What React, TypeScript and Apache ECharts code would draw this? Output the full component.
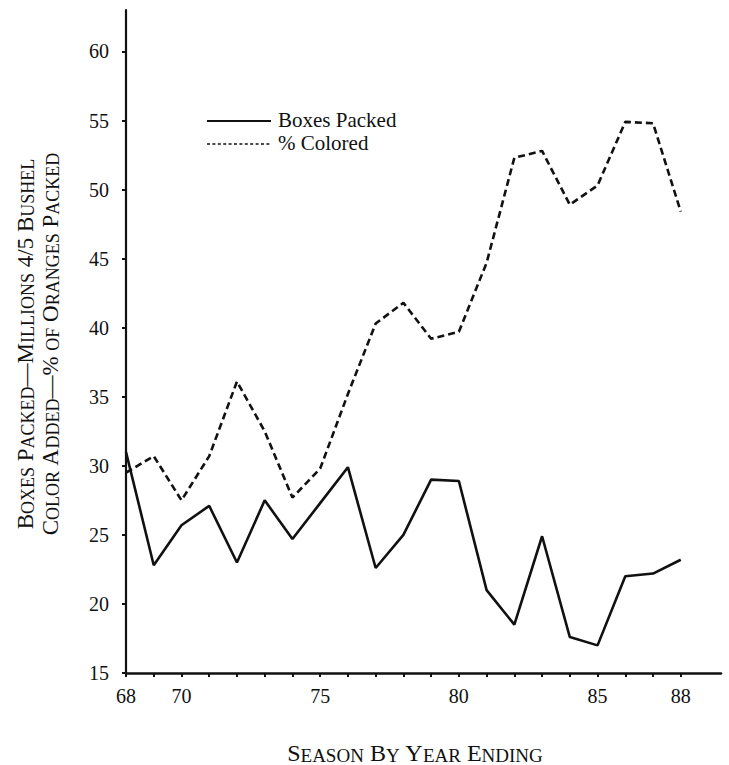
import React, { useEffect, useRef } from 'react';
import * as echarts from 'echarts';

const years = [68, 69, 70, 71, 72, 73, 74, 75, 76, 77, 78, 79, 80, 81, 82, 83, 84, 85, 86, 87, 88];
const boxesPacked = [31.0, 22.8, 25.7, 27.1, 23.0, 27.5, 24.7, 27.3, 29.9, 22.6, 25.0, 29.0, 28.9, 21.0, 18.5, 24.9, 17.6, 17.0, 22.0, 22.2, 23.2];
const pctColored = [29.5, 30.7, 27.5, 30.7, 36.1, 32.5, 27.7, 29.8, 35.2, 40.3, 41.8, 39.2, 39.7, 44.7, 52.3, 52.8, 48.9, 50.3, 54.9, 54.8, 48.4];
const xLabelValues = [68, 70, 75, 80, 85, 88];
const yTickValues = [15, 20, 25, 30, 35, 40, 45, 50, 55, 60];
const seriesNames = ['Boxes Packed', '% Colored'];
const yTitleLines = ['Boxes Packed\u2014Millions 4/5 Bushel', 'Color Added\u2014% of Oranges Packed'];
const xTitle = 'Season By Year Ending';

const FONT = '"Liberation Serif", "DejaVu Serif", serif';
const INK = '#111';

// convert to small caps rich-text string
function smallCaps(s: string): string {
  let out = '';
  let cur = '';
  let curStyle = '';
  for (const ch of s) {
    const isLower = ch !== ch.toUpperCase();
    const st = isLower ? 's' : 'L';
    const c = ch.toUpperCase();
    if (st !== curStyle && cur) {
      out += `{${curStyle}|${cur}}`;
      cur = '';
    }
    curStyle = st;
    cur += c;
  }
  if (cur) out += `{${curStyle}|${cur}}`;
  return out;
}

function richStyles(big: number, small: number) {
  return {
    L: { fontSize: big, fontFamily: FONT, fill: INK, color: INK, lineHeight: big + 2, verticalAlign: 'bottom' },
    s: { fontSize: small, fontFamily: FONT, fill: INK, color: INK, lineHeight: big + 2, verticalAlign: 'bottom' },
  };
}

export default function App() {
  const ref = useRef<HTMLDivElement>(null);
  useEffect(() => {
    if (!ref.current) return;
    const chart = echarts.init(ref.current, null, { renderer: 'svg' });
    const option: any = {
      animation: false,
      backgroundColor: '#fff',
      grid: { left: 126, right: 8, top: 10, bottom: 92, outerBoundsMode: 'none' },
      legend: { show: false },
      xAxis: {
        type: 'value',
        min: 68,
        max: 89.45,
        interval: 1,
        splitLine: { show: false },
        axisLine: { show: true, onZero: false, lineStyle: { color: INK, width: 2.5 } },
        axisTick: { show: true, length: 4, customValues: years, lineStyle: { color: INK, width: 2 } },
        axisLabel: {
          customValues: xLabelValues,
          margin: 13,
          fontFamily: FONT,
          fontSize: 20,
          color: INK,
        },
      },
      yAxis: {
        type: 'value',
        min: 15,
        max: 63,
        interval: 5,
        splitLine: { show: false },
        axisLine: { show: true, onZero: false, lineStyle: { color: INK, width: 2.2 } },
        axisTick: { show: true, length: 4, customValues: yTickValues, lineStyle: { color: INK, width: 2 } },
        axisLabel: {
          customValues: yTickValues,
          margin: 17,
          fontFamily: FONT,
          fontSize: 20,
          color: INK,
        },
      },
      series: [
        {
          name: seriesNames[0],
          type: 'line',
          data: years.map((y, i) => [y, boxesPacked[i]]),
          symbol: 'none',
          lineStyle: { color: INK, width: 2.6, type: 'solid' },
          itemStyle: { color: INK },
        },
        {
          name: seriesNames[1],
          type: 'line',
          data: years.map((y, i) => [y, pctColored[i]]),
          symbol: 'none',
          lineStyle: { color: INK, width: 2.6, type: [7, 4] },
          itemStyle: { color: INK },
        },
      ],
      graphic: [
        // legend
        {
          type: 'line',
          shape: { x1: 207, y1: 121, x2: 271, y2: 121 },
          style: { stroke: INK, lineWidth: 2 },
        },
        {
          type: 'text',
          x: 278,
          y: 120,
          style: { text: seriesNames[0], font: `21px ${FONT}`, fill: INK, textVerticalAlign: 'middle' },
        },
        {
          type: 'line',
          shape: { x1: 207, y1: 144, x2: 271, y2: 144 },
          style: { stroke: INK, lineWidth: 1.6, lineDash: [3, 2.4] },
        },
        {
          type: 'text',
          x: 278,
          y: 143,
          style: { text: seriesNames[1], font: `21px ${FONT}`, fill: INK, textVerticalAlign: 'middle' },
        },
        // axis titles
        {
          type: 'text',
          x: 24,
          y: 344,
          rotation: Math.PI / 2,
          style: {
            text: smallCaps(yTitleLines[0]),
            rich: richStyles(23, 18),
            textAlign: 'center',
            textVerticalAlign: 'middle',
            fill: INK,
          },
        },
        {
          type: 'text',
          x: 49,
          y: 344,
          rotation: Math.PI / 2,
          style: {
            text: smallCaps(yTitleLines[1]),
            rich: richStyles(23, 18),
            textAlign: 'center',
            textVerticalAlign: 'middle',
            fill: INK,
          },
        },
        {
          type: 'text',
          x: 415,
          y: 752,
          style: {
            text: smallCaps(xTitle),
            rich: richStyles(24, 19),
            textAlign: 'center',
            textVerticalAlign: 'middle',
            fill: INK,
          },
        },
      ],
    };
    chart.setOption(option);
    return () => chart.dispose();
  }, []);
  return (
    <div
      ref={ref}
      style={{ position: 'fixed', left: 0, top: 0, width: 729, height: 765, background: '#fff' }}
    />
  );
}
